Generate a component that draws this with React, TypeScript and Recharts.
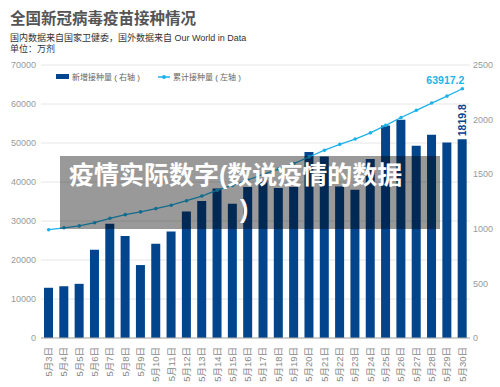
import React from 'react'
import { Bar, CartesianGrid, ComposedChart, LabelList, Legend, Line, XAxis, YAxis } from 'recharts'

const dates = [
    '5月3日', '5月4日', '5月5日', '5月6日', '5月7日', '5月8日', '5月9日', '5月10日', '5月11日', '5月12日',
    '5月13日', '5月14日', '5月15日', '5月16日', '5月17日', '5月18日', '5月19日', '5月20日', '5月21日', '5月22日',
    '5月23日', '5月24日', '5月25日', '5月26日', '5月27日', '5月28日', '5月29日', '5月30日',
]
// 新增接种量（右轴）
const newDoses = [
    460, 474, 496, 809, 1047, 935, 668, 864, 976, 1159,
    1254, 1370, 1230, 1383, 1450, 1374, 1383, 1703, 1663, 1388,
    1358, 1639, 1947, 1999, 1761, 1862, 1791, 1819.8,
]
// 累计接种量（左轴）
const totalDoses = [
    27770, 28240, 28740, 29560, 30700, 31630, 32330, 33180, 34050, 35200,
    36400, 37900, 39130, 40510, 41960, 43330, 44710, 46410, 48150, 49650,
    51010, 52600, 54540, 56540, 58380, 60240, 62030, 63917.2,
]
const leftTicks = [0, 10000, 20000, 30000, 40000, 50000, 60000, 70000]
const rightTicks = [0, 500, 1000, 1500, 2000, 2500]

const data = dates.map((d, i) => ({ date: d, newDoses: newDoses[i], totalDoses: totalDoses[i] }))

const BAR = '#02458c'
const LINE = '#1db3ea'
// latin font first so line boxes stay tight, CJK glyphs fall back to Noto
const FONT = '"Liberation Sans", Arial, "Noto Sans CJK SC", sans-serif'
const last = data.length - 1

const DateTick = (props: any) => {
    const { x, y, payload } = props
    return (
        <text x={x} y={y} transform={`rotate(-90, ${x}, ${y})`} textAnchor='end' dy='0.35em' fontSize={9.5} fill='#888' fontFamily={FONT}>
            {payload.value}
        </text>
    )
}

const BarLabel = (props: any) => {
    const { x, y, width, value, index } = props
    if (index !== last) return null
    const cx = x + width / 2
    const ty = y - 3
    return (
        <text x={cx} y={ty} transform={`rotate(-90, ${cx}, ${ty})`} dy='0.35em' textAnchor='start' fontSize={10.5} fontWeight={600} fill={BAR} fontFamily={FONT}>
            {value}
        </text>
    )
}

const LineLabel = (props: any) => {
    const { x, y, value, index } = props
    if (index !== last) return null
    return (
        <text x={x + 2} y={y - 5} textAnchor='end' fontSize={10.5} fontWeight={600} fill={LINE} fontFamily={FONT}>
            {value}
        </text>
    )
}

const LegendContent = () => (
    <div style={{ display: 'flex', alignItems: 'center', fontFamily: FONT, fontSize: 8, color: '#666', whiteSpace: 'nowrap' }}>
        <span style={{ display: 'inline-block', width: 13, height: 5, background: BAR, marginRight: 3 }} />
        <span>新增接种量 ( 右轴 )</span>
        <svg width={12} height={6} style={{ marginLeft: 18, marginRight: 3 }}>
            <line x1={0} y1={3} x2={12} y2={3} stroke={LINE} strokeWidth={1.5} />
            <circle cx={6} cy={3} r={2} fill={LINE} />
        </svg>
        <span>累计接种量 ( 左轴 )</span>
    </div>
)

export default function App() {
    return (
        <div style={{ position: 'fixed', left: 0, top: 0, width: 500, height: 387, background: '#fff', overflow: 'hidden' }}>
            <div style={{ position: 'absolute', left: 10, top: 7, fontFamily: '"Noto Sans CJK SC", sans-serif', fontWeight: 700, fontSize: 15.5, lineHeight: '20px', color: '#555' }}>
                全国新冠病毒疫苗接种情况
            </div>
            <div style={{ position: 'absolute', left: 10, top: 33, fontFamily: FONT, fontSize: 9, lineHeight: '10px', color: '#333' }}>
                国内数据来自国家卫健委，国外数据来自 Our World in Data
            </div>
            <div style={{ position: 'absolute', left: 10, top: 44, fontFamily: FONT, fontSize: 9, lineHeight: '10px', color: '#333' }}>
                单位：万剂
            </div>
            <ComposedChart width={500} height={387} data={data} margin={{ top: 65, right: 0, bottom: 0, left: 0 }} style={{ position: 'absolute', left: 0, top: 0 }}>
                <CartesianGrid vertical={false} stroke='#e6e6e6' yAxisId='left' />
                <XAxis dataKey='date' height={49} interval={0} tick={<DateTick />} tickLine={false} axisLine={{ stroke: '#aaa' }} tickMargin={3} />
                <YAxis yAxisId='left' width={41} domain={[0, 70000]} ticks={leftTicks} tickSize={0} tickMargin={5} axisLine={false}
                    tick={{ fontSize: 9, fill: '#999', fontFamily: FONT }} />
                <YAxis yAxisId='right' orientation='right' width={30} domain={[0, 2500]} ticks={rightTicks} tickSize={0} tickMargin={3} axisLine={false}
                    tick={{ fontSize: 9, fill: '#999', fontFamily: FONT, textAnchor: 'start' }} />
                <Legend layout='horizontal' verticalAlign='middle' align='center' content={<LegendContent />}
                    wrapperStyle={{ top: 71, left: 56, width: 'auto', height: 'auto' }} />
                <Bar yAxisId='right' dataKey='newDoses' fill={BAR} barSize={9} isAnimationActive={false}>
                    <LabelList dataKey='newDoses' content={<BarLabel />} />
                </Bar>
                <Line yAxisId='left' dataKey='totalDoses' type='linear' stroke={LINE} strokeWidth={1.3} dot={{ r: 1.8, fill: LINE, stroke: LINE, strokeWidth: 0 }} isAnimationActive={false}>
                    <LabelList dataKey='totalDoses' content={<LineLabel />} />
                </Line>
            </ComposedChart>
            <div style={{ position: 'absolute', left: 60, top: 156, width: 380, height: 73, background: 'rgba(0,0,0,0.4)' }}>
                <div style={{ position: 'absolute', left: 9, top: 5, fontFamily: FONT, fontWeight: 700, fontSize: 25, lineHeight: '28px', color: '#fff', whiteSpace: 'nowrap' }}>
                    疫情实际数字(数说疫情的数据
                </div>
                <div style={{ position: 'absolute', left: 180, top: 39, fontFamily: FONT, fontWeight: 700, fontSize: 25, lineHeight: '28px', color: '#fff' }}>
                    )
                </div>
            </div>
        </div>
    )
}
